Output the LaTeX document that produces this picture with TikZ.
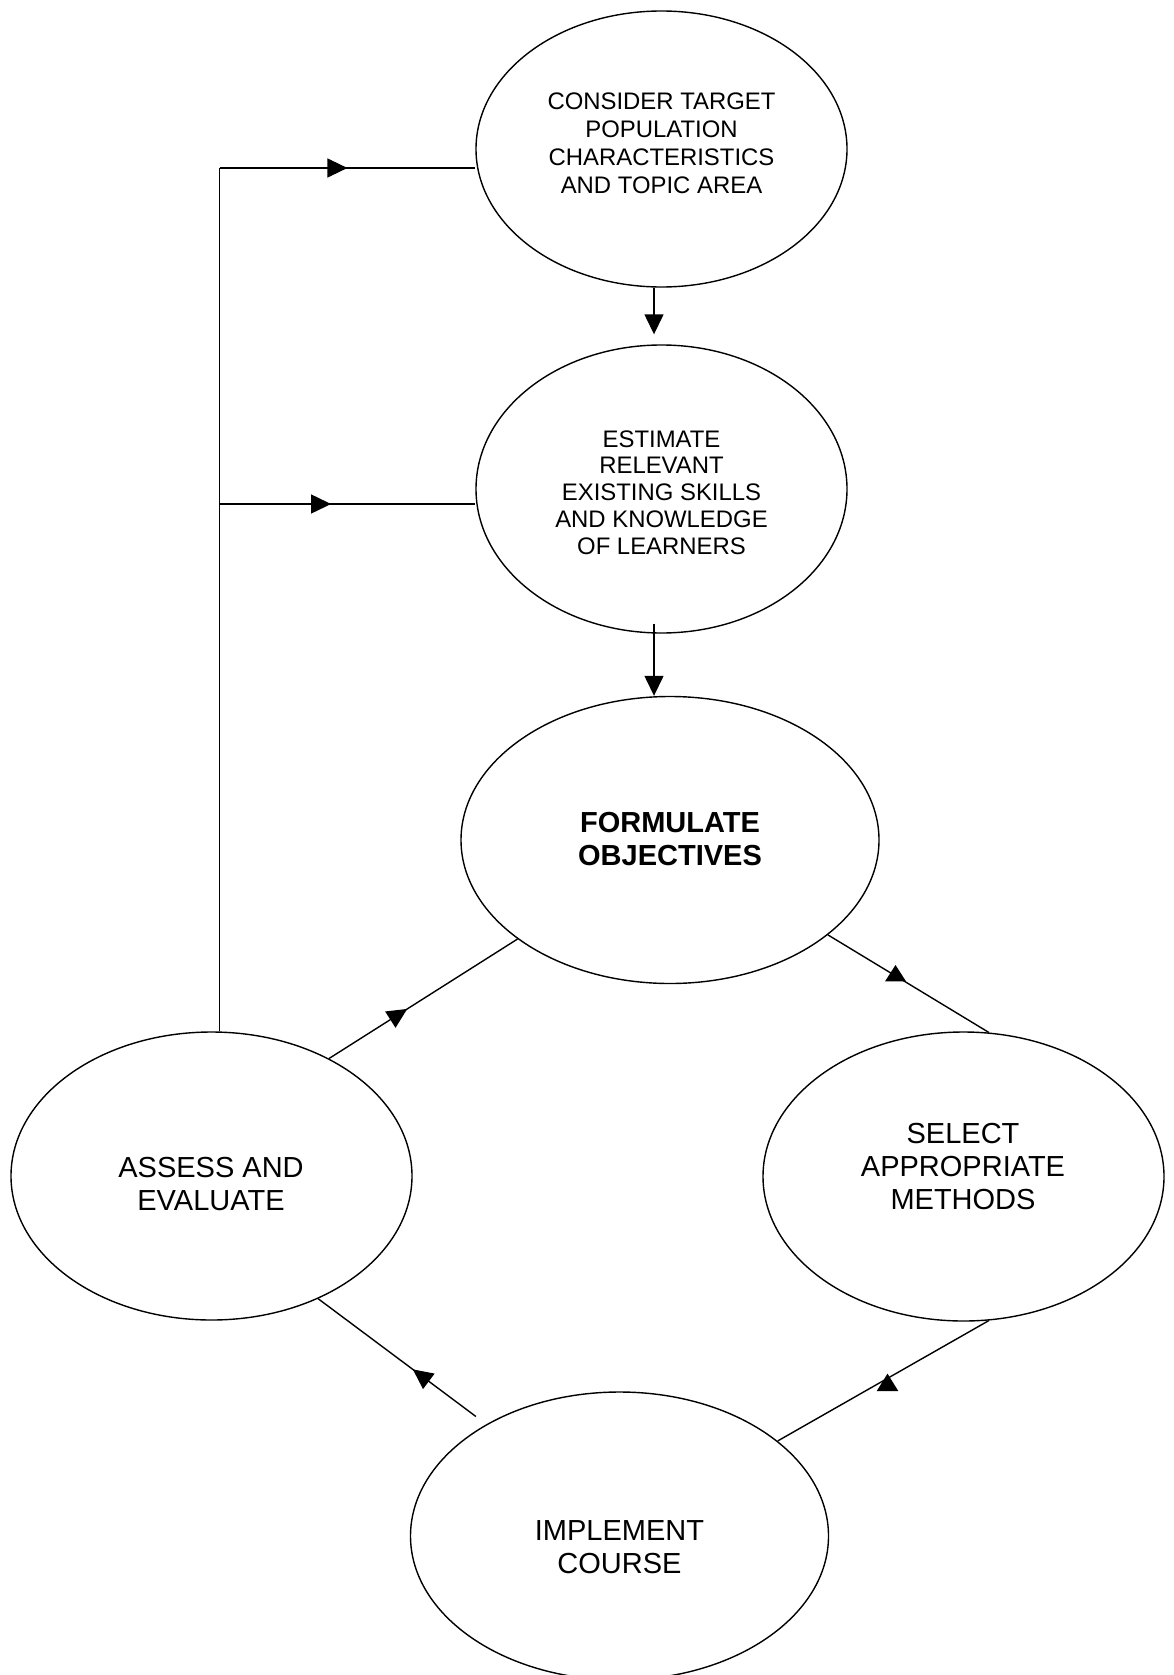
\documentclass[tikz,border=0pt]{standalone}
\usepackage{fontspec}
\setmainfont{Liberation Sans}
\usetikzlibrary{shapes.geometric, arrows.meta, decorations.markings, calc}
\begin{document}
\begin{tikzpicture}[x=1pt, y=-1pt,
  ell/.style={draw, ellipse, line width=1.4pt, inner sep=0pt},
  conn/.style={line width=1.4pt},
  arr/.style={conn, -{Triangle[length=20pt,width=19pt]}},
  midarr/.style={conn, postaction={decorate}, decoration={markings, mark=at position #1 with {\arrow{Triangle[length=20pt,width=19pt]}}}},
  smalltxt/.style={align=center, font=\fontsize{23.9}{27.8}\selectfont},
  smalltxtb/.style={align=center, font=\fontsize{23.9}{26.8}\selectfont},
  bigtxt/.style={align=center, font=\fontsize{29}{33.4}\selectfont},
  boldtxt/.style={align=center, font=\fontsize{29}{32.8}\selectfont\bfseries}
]
\useasboundingbox (0,0) rectangle (1174,1675);
\fill[white] (0,0) rectangle (1174,1675);
\clip (0,0) rectangle (1174,1675);

% ellipses
\node[ell, minimum width=371pt, minimum height=276pt] (e1) at (661.5,149) {};
\node[ell, minimum width=371pt, minimum height=288pt] (e2) at (661.5,489) {};
\node[ell, minimum width=418pt, minimum height=287pt] (e3) at (670,840) {};
\node[ell, minimum width=401pt, minimum height=288pt] (e4) at (211.5,1176) {};
\node[ell, minimum width=401pt, minimum height=289pt] (e5) at (963.5,1176.5) {};
\node[ell, minimum width=418pt, minimum height=288pt] (e6) at (619.5,1536) {};

% texts
\node[smalltxt] (t1) at (661.5,143.3) {CONSIDER TARGET\\POPULATION\\CHARACTERISTICS\\AND TOPIC AREA};
\node[smalltxtb] (t2) at (661.5,492.5) {ESTIMATE\\RELEVANT\\EXISTING SKILLS\\AND KNOWLEDGE\\OF LEARNERS};
\node[boldtxt] (t3) at (670,839) {FORMULATE\\OBJECTIVES};
\node[bigtxt] (t4) at (211,1184) {ASSESS AND\\EVALUATE};
\node[bigtxt] (t5) at (963,1166.5) {SELECT\\APPROPRIATE\\METHODS};
\node[bigtxt] (t6) at (619.5,1547) {IMPLEMENT\\COURSE};

% helper coordinates
\coordinate (k1) at (219.5,168);
\coordinate (k2) at (219.5,504);
\coordinate (ax) at (654,0);

% feedback trunk and branches
\draw[conn] (e4.north -| k1) -- (k1);
\draw[midarr=0.5] (k1) -- (e1.west |- k1);
\draw[midarr=0.436] (k2) -- (e2.west |- k2);

% vertical arrows
\draw[arr, shorten >=10pt] (e1.south -| ax) -- (e2.north -| ax);
\draw[arr] ([yshift=10pt]e2.south -| ax) -- (e3.north -| ax);

% cycle
\draw[midarr=0.415] (e4.45) -- (e3.213);
\draw[conn, postaction={decorate}, decoration={markings, mark=at position 0.42 with {\pgftransformresetnontranslations \fill (0pt,10.9pt) -- (-10.5pt,-5.5pt) -- (10.5pt,-5.5pt) -- cycle;}}] (e3.329) -- (e5.80);
\draw[conn, postaction={decorate}, decoration={markings, mark=at position 0.48 with {\pgftransformresetnontranslations \fill (0pt,4.7pt) -- (-10.8pt,-12.7pt) -- (10.8pt,-12.7pt) -- cycle;}}] (e5.280) -- (e6.31);
\draw[midarr=0.40] ($(e6.140)!13pt!(e4.311)$) -- (e4.311);
\end{tikzpicture}
\end{document}
